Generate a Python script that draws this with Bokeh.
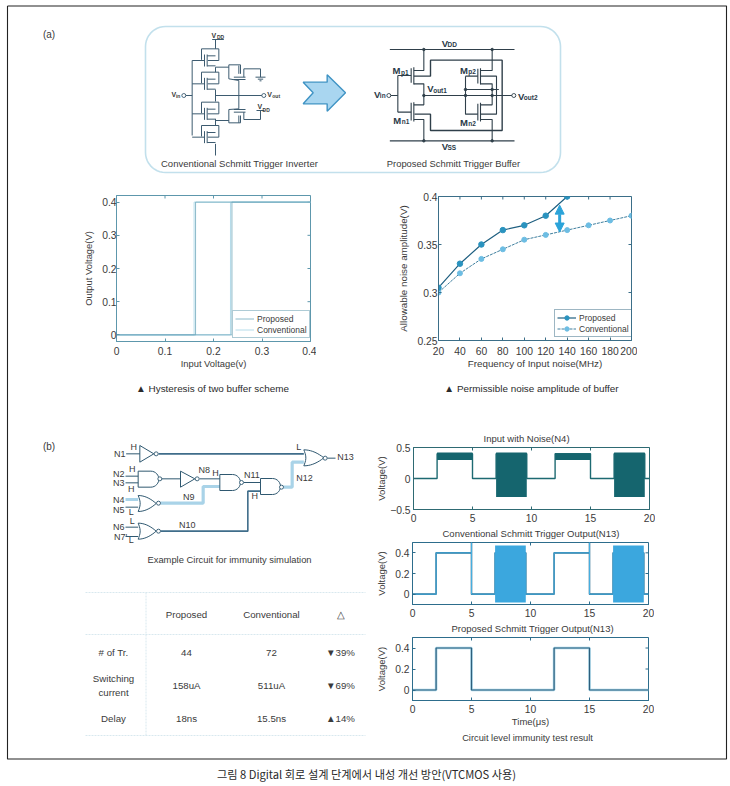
import numpy as np
from bokeh.embed import file_html
from bokeh.resources import INLINE
from bokeh.plotting import figure
from bokeh.models import (ColumnDataSource, Range1d, FixedTicker, Legend, LegendItem,
                          Arrow, NormalHead, Title)

# ---------- chart data ----------
hyst_prop_x = [0, 0.238, 0.238, 0.4, 0.163, 0.163, 0]
hyst_prop_y = [0, 0, 0.4, 0.4, 0.4, 0, 0]
hyst_conv_x = [0, 0.235, 0.235, 0.4, 0.16, 0.16, 0]
hyst_conv_y = [0, 0, 0.4, 0.4, 0.4, 0, 0]

freq_prop = [20, 40, 60, 80, 100, 120, 140]
amp_prop = [0.305, 0.33, 0.35, 0.365, 0.37, 0.38, 0.40]
freq_conv = [20, 40, 60, 80, 100, 120, 140, 160, 180, 200]
amp_conv = [0.30, 0.32, 0.335, 0.345, 0.355, 0.36, 0.365, 0.37, 0.375, 0.38]
gap_freq = [133, 133]
gap_amp = [0.363, 0.391]

n4_t = [0, 2, 2, 5, 5, 7, 7, 9.6, 9.6, 12, 12, 15, 15, 17, 17, 19.6, 19.6, 20]
n4_v = [0, 0, 0.4, 0.4, 0, 0, 0.4, 0.4, 0, 0, 0.4, 0.4, 0, 0, 0.4, 0.4, 0, 0]
n4_band_start = [2, 7, 12, 17]
n4_band_end = [5, 9.6, 15, 19.6]
n4_band_low = [0.3, -0.3, 0.3, -0.3]
n4_band_high = [0.42, 0.42, 0.4, 0.42]

conv_t = [0, 2, 2, 5, 5, 5, 7, 7, 9.6, 9.6, 12, 12, 15, 15, 15, 17, 17, 19.6, 19.6, 20]
conv_v = [0, 0, 0.4, 0.4, 0.5, 0, 0, 0.4, 0.4, 0, 0, 0.4, 0.4, 0.5, 0, 0, 0.4, 0.4, 0, 0]
conv_band_start = [7, 17]
conv_band_end = [9.6, 19.6]
conv_band_low = [-0.08, -0.08]
conv_band_high = [0.47, 0.47]

prop_t = [0, 2, 2, 5, 5, 12, 12, 15, 15, 20]
prop_v = [0, 0, 0.4, 0.4, 0, 0, 0.4, 0.4, 0, 0]

tbl_headers = ["Proposed", "Conventional", "\u25b3"]
tbl_transistors = ["# of Tr.", "44", "72", "\u25bc39%"]
tbl_current = ["158uA", "511uA", "\u25bc69%"]
tbl_delay = ["Delay", "18ns", "15.5ns", "\u25b214%"]

TXT = "#3a3a3a"
FONT = "Liberation Sans"

# ---------- canvas in image pixels ----------
bg = figure(width=730, height=786, x_range=Range1d(0, 730), y_range=Range1d(786, 0),
            output_backend="svg", toolbar_location=None, min_border=0,
            styles={"position": "absolute", "left": "0px", "top": "0px"})
bg.axis.visible = False
bg.grid.visible = False
bg.outline_line_color = None

texts = dict(t=[], x=[], y=[], s=[], st=[], c=[], f=[], al=[])
def T(t, x, y, s=10, st="normal", c=TXT, f=FONT, al="center"):
    texts["t"].append(t); texts["x"].append(x); texts["y"].append(y)
    texts["s"].append(f"{s}px"); texts["st"].append(st); texts["c"].append(c)
    texts["f"].append(f); texts["al"].append(al)

def Z(ox, oy, pts):
    return [ox + p[0] / 3 for p in pts], [oy + p[1] / 3 for p in pts]

def wires(ox, oy, lines, color, width):
    xs, ys = [], []
    for l in lines:
        a, b = Z(ox, oy, l)
        xs.append(a); ys.append(b)
    bg.multi_line(xs, ys, line_color=color, line_width=width)

def dots(ox, oy, pts, size, line="#3a5a70", fill="white"):
    a, b = Z(ox, oy, pts)
    bg.scatter(a, b, size=size, line_color=line, fill_color=fill, line_width=0.9)

# outer frame
bg.line([7, 726, 726, 7, 7], [5.5, 5.5, 758.5, 758.5, 5.5], line_color="#222222", line_width=1.1)
T("(a)", 48.5, 34, 10)
T("(b)", 48.5, 446, 10)
T("\uadf8\ub9bc 8 Digital \ud68c\ub85c \uc124\uacc4 \ub2e8\uacc4\uc5d0\uc11c \ub0b4\uc131 \uac1c\uc120 \ubc29\uc548(VTCMOS \uc0ac\uc6a9)",
  366, 773, 11.2, f="Noto Sans CJK KR", c="#2a2a2a")

# rounded panel
L, R, TP, B, rad = 145, 560, 26, 172, 20
th = np.linspace(0, np.pi / 2, 12)
px = np.concatenate([L + rad - rad * np.cos(th), R - rad + rad * np.sin(th),
                     R - rad + rad * np.cos(th), L + rad - rad * np.sin(th)])
py = np.concatenate([TP + rad - rad * np.sin(th), TP + rad - rad * np.cos(th),
                     B - rad + rad * np.sin(th), B - rad + rad * np.cos(th)])
bg.patch(px, py, fill_color=None, line_color="#c2e0ec", line_width=1.6)

# conventional schematic
ZX, ZY = 130, 15
DK = "#3d5b70"
conv_wires = [
    [(245, 72), (280, 72)], [(255, 72), (255, 100)],
    [(185, 135), (185, 360)], [(160, 240), (185, 240)],
    [(255, 155), (255, 170)], [(255, 222), (255, 258)], [(255, 240), (400, 240)],
    [(255, 310), (255, 330)], [(255, 385), (255, 420)],
    [(255, 155), (295, 155)], [(255, 315), (295, 315)],
    [(325, 150), (325, 175)], [(325, 195), (325, 280)], [(325, 300), (325, 322)],
    [(295, 148), (330, 148), (330, 175)], [(295, 148), (295, 190), (325, 195)],
    [(295, 322), (330, 322), (330, 300)], [(295, 322), (295, 282), (325, 280)],
    [(310, 185), (345, 185)], [(310, 192), (345, 192)], [(310, 282), (345, 282)], [(310, 290), (345, 290)],
    [(340, 185), (340, 160), (390, 160), (390, 185)], [(375, 185), (405, 185)], [(382, 191), (398, 191)], [(387, 196), (393, 196)],
    [(340, 290), (340, 312), (390, 312), (390, 285)], [(378, 285), (402, 285)],
]
for cy in (125, 195, 285, 355):
    conv_wires += [
        [(185, cy + 10), (222, cy + 10)], [(222, cy - 8), (222, cy + 28)], [(230, cy - 8), (230, cy + 28)],
        [(230, cy - 4), (255, cy - 4)], [(230, cy + 26), (255, cy + 26)],
        [(213, cy + 8), (213, cy - 25), (265, cy - 25), (265, cy + 10), (232, cy + 10)],
    ]
wires(ZX, ZY, conv_wires, DK, 1.0)
dots(ZX, ZY, [(160, 240), (400, 240)], 4)
T("V", ZX + 250 / 3, ZY + 60 / 3, 7, "bold"); T("DD", ZX + 270 / 3, ZY + 63 / 3, 5, "bold")
T("V", ZX + 130 / 3, ZY + 237 / 3, 7, "bold"); T("in", ZX + 143 / 3, ZY + 240 / 3, 5, "bold")
T("V", ZX + 417 / 3, ZY + 237 / 3, 7, "bold"); T("out", ZX + 437 / 3, ZY + 241 / 3, 5, "bold")
T("V", ZX + 388 / 3, ZY + 274 / 3, 7, "bold"); T("DD", ZX + 407 / 3, ZY + 282 / 3, 5, "bold")
T("Conventional Schmitt Trigger Inverter", 239, 163, 9.5)

# big arrow
arrow_x, arrow_y = Z(ZX, ZY, [(518, 200), (590, 200), (590, 178), (645, 232), (590, 287), (590, 265), (518, 265), (548, 232)])
bg.patch(arrow_x, arrow_y, fill_color="#a9d6f0", line_color="#3f93c4", line_width=1.4)

# proposed schematic
prop_wires = [
    [(778, 102), (1152, 102)], [(778, 376), (1152, 376)],
    [(880, 102), (880, 165), (850, 165)], [(850, 155), (850, 207)], [(842, 158), (842, 202)],
    [(802, 180), (842, 180)], [(802, 180), (802, 290)], [(778, 240), (802, 240)],
    [(850, 205), (880, 205), (880, 268), (850, 268)], [(850, 260), (850, 318)], [(842, 262), (842, 315)],
    [(802, 290), (842, 290)], [(850, 312), (880, 312), (880, 376)],
    [(880, 240), (1150, 240)],
    [(1085, 102), (1085, 165), (1050, 165)], [(1050, 158), (1050, 207)], [(1042, 160), (1042, 204)],
    [(1005, 182), (1042, 182)], [(1005, 182), (1005, 296), (1042, 296)],
    [(1050, 205), (1085, 205), (1085, 268), (1050, 268)], [(1050, 262), (1050, 318)], [(1042, 265), (1042, 315)],
    [(1050, 312), (1085, 312), (1085, 376)],
    [(1050, 182), (1098, 182), (1098, 296), (1050, 296)], [(1005, 222), (1105, 222)],
]
wires(ZX, ZY, prop_wires, "#2f3f4a", 1.1)
wires(ZX, ZY, [[(850, 182), (900, 182), (900, 134), (1115, 134), (1115, 345), (900, 345), (900, 296), (852, 296)]], "#2f3f4a", 1.4)
dots(ZX, ZY, [(775, 240), (1150, 240)], 4, "#2f3f4a")
dots(ZX, ZY, [(880, 102), (1085, 102), (880, 376), (1085, 376), (880, 240), (1005, 240), (1085, 240),
              (1005, 222), (1085, 222)], 2.5, "#2f3f4a", "#2f3f4a")
for m, s, zx, zy in [("M", "p1", 798, 166), ("M", "n1", 800, 314), ("M", "p2", 1000, 164), ("M", "n2", 1000, 320)]:
    T(m, ZX + zx / 3, ZY + zy / 3, 9.5, "bold", c="#2a3a48")
    T(s, ZX + (zx + 25) / 3, ZY + (zy + 5) / 3, 6.5, "bold", c="#2a3a48")
for v, s, zx, zy in [("V", "DD", 943, 84), ("V", "SS", 943, 392), ("V", "in", 740, 236), ("V", "out1", 900, 220), ("V", "out2", 1172, 243)]:
    T(v, ZX + zx / 3, ZY + zy / 3, 9.5, "bold", c="#2a3a48")
    T(s, ZX + (zx + 8) / 3, ZY + (zy + 4) / 3, 6.5, "bold", c="#2a3a48", al="left")
T("Proposed Schmitt Trigger Buffer", 453, 163, 9.4)

T("\u25b2 Hysteresis of two buffer scheme", 212, 388, 9.9, c="#2a2a2a")
T("\u25b2 Permissible noise amplitude of buffer", 531, 388, 9.9, c="#2a2a2a")

# logic circuit
CX, CY = 90, 430
def nand(x0, x1, y0, y1):
    r = (y1 - y0) / 2
    t = np.linspace(-np.pi / 2, np.pi / 2, 16)
    xs = [x0] + list(x1 - r + r * np.cos(t)) + [x0, x0]
    ys = [y0] + list((y0 + y1) / 2 + r * np.sin(t)) + [y1, y0]
    return list(zip(xs, ys))
def nor(x0, x1, y0, y1):
    t = np.linspace(0, 1, 10)
    h = y1 - y0
    top = [(x0 + (x1 - x0) * a, y0 + h / 2 * a ** 2) for a in t]
    bot = [(x1 - (x1 - x0) * a, y1 - h / 2 * (1 - a) ** 2) for a in t]
    back = [(x0 + 6 * np.sin(np.pi * a), y1 - h * a) for a in t]
    return top + bot + back

dark_w = [
    [(107, 70), (148, 70)], [(148, 45), (148, 95), (190, 70), (148, 45)],
    [(105, 137), (143, 137)], [(105, 157), (143, 157)],
    [(212, 145), (270, 145)], [(270, 122), (270, 170), (313, 145), (270, 122)],
    [(327, 145), (388, 145)], [(460, 156), (510, 156)],
    [(105, 230), (143, 230)], [(105, 290), (143, 290)], [(105, 318), (143, 318)],
    [(710, 83), (735, 83)],
    nand(143, 205, 122, 170), nand(388, 450, 132, 180), nand(510, 570, 144, 192),
    nor(640, 700, 58, 106), nor(143, 197, 195, 243), nor(143, 197, 278, 326),
]
light_w = [
    [(105, 207), (143, 207)],
    [(210, 218), (338, 218), (338, 168), (388, 168)],
    [(578, 170), (605, 170), (605, 95), (640, 95)],
]
wires(CX, CY, light_w, "#a9d3e8", 3.2)
wires(CX, CY, dark_w, "#2f5870", 1.0)
wires(CX, CY, [[(204, 70), (640, 70)], [(210, 302), (472, 302), (472, 182), (510, 182)]], "#3f6d8a", 1.6)
dots(CX, CY, [(197, 70), (208, 145), (320, 145), (453, 156), (573, 170), (704, 83), (204, 218), (204, 302)], 4, "#2f5870")
for lbl, zx, zy in [("N1", 88, 70), ("N2", 85, 130), ("N3", 85, 157), ("N4", 85, 207), ("N5", 85, 237),
                    ("N6", 85, 290), ("N7'", 90, 318), ("N8", 341, 118), ("N9", 295, 198), ("N10", 290, 284),
                    ("N11", 484, 133), ("N12", 642, 142), ("N13", 765, 80),
                    ("H", 130, 48), ("H", 125, 115), ("H", 122, 175), ("L", 122, 245), ("L", 125, 270),
                    ("L", 122, 328), ("H", 375, 127), ("H", 493, 197), ("L", 625, 48)]:
    T(lbl, CX + zx / 3, CY + zy / 3, 9)
T("Example Circuit for immunity simulation", 229, 559, 9.4)

# table
bg.multi_line([[85, 365], [85, 365], [145.5, 145.5], [85, 365]], [[634, 634], [735, 735], [592, 735], [592, 592]],
              line_color="#d8e8ef", line_width=1, line_dash="2 1")
col_x = [186, 271, 340]
for h, cx in zip(tbl_headers, col_x):
    T(h, cx, 614, 9.7)
T(tbl_transistors[0], 113, 652, 9.7)
for v, cx in zip(tbl_transistors[1:], col_x):
    T(v, cx, 652, 9.7)
T("Switching", 113, 678, 9.7); T("current", 113, 692, 9.7)
for v, cx in zip(tbl_current, col_x):
    T(v, cx, 685, 9.7)
T(tbl_delay[0], 113, 718, 9.7)
for v, cx in zip(tbl_delay[1:], col_x):
    T(v, cx, 718, 9.7)
T("Circuit level immunity test result", 527, 737, 9.3)

src = ColumnDataSource(texts)
bg.text("x", "y", text="t", source=src, text_font_size="s", text_font_style="st", text_color="c",
        text_font="f", text_align="al", text_baseline="middle")

# ---------- helper for the axes panels ----------
ML, MT, MR, MB = 56, 24, 6, 34
def panel(fl, ft, fr, fb, xlim, ylim, xticks, yticks, xlab_over, ylab_over, axc, xlabel=None, ylabel=None,
          ystand=5, ylab_stand=7, xstand=4, xlab_stand=0, lab_size="9.5px", title=None, title_off=0, tick=3):
    fw, fh = round(fr - fl), round(fb - ft)
    p = figure(frame_width=fw, frame_height=fh, x_range=Range1d(*xlim), y_range=Range1d(*ylim),
               output_backend="svg", toolbar_location=None, min_border_left=ML, min_border_top=MT,
               min_border_right=MR, min_border_bottom=MB, background_fill_alpha=0, border_fill_alpha=0,
               styles={"position": "absolute", "left": f"{round(fl) - ML}px", "top": f"{round(ft) - MT}px"})
    p.grid.visible = False
    p.outline_line_color = axc
    for ax, ticks, over, lab, stand, lab_st in [(p.xaxis[0], xticks, xlab_over, xlabel, xstand, xlab_stand),
                                                (p.yaxis[0], yticks, ylab_over, ylabel, ystand, ylab_stand)]:
        ax.ticker = FixedTicker(ticks=ticks)
        ax.major_label_overrides = over
        ax.major_tick_in, ax.major_tick_out = tick, 0
        ax.minor_tick_line_color = None
        ax.axis_line_color = axc
        ax.major_tick_line_color = axc
        ax.major_label_text_font = FONT
        ax.major_label_text_font_size = "10.3px"
        ax.major_label_text_color = TXT
        ax.major_label_standoff = stand
        if lab:
            ax.axis_label = lab
            ax.axis_label_text_font = FONT
            ax.axis_label_text_font_size = lab_size
            ax.axis_label_text_font_style = "normal"
            ax.axis_label_text_color = TXT
            ax.axis_label_standoff = lab_st
    # box ticks on the right and top edges, without any labels
    dx = tick / fw * (xlim[1] - xlim[0])
    dy = tick / fh * (ylim[1] - ylim[0])
    p.segment([xlim[1]] * len(yticks), yticks, [xlim[1] - dx] * len(yticks), yticks, line_color=axc, line_width=1)
    p.segment(xticks, [ylim[1]] * len(xticks), xticks, [ylim[1] - dy] * len(xticks), line_color=axc, line_width=1)
    if title:
        p.add_layout(Title(text=title, text_font=FONT, text_font_size="9.5px", text_font_style="normal",
                           text_color=TXT, align="left", offset=title_off, standoff=7), "above")
    return p

def legend(p, items, loc, border):
    lg = Legend(items=items, location=loc, padding=2, margin=0, spacing=0, glyph_width=19, glyph_height=11,
                label_height=11, label_standoff=3, label_text_font=FONT, label_text_font_size="8.5px",
                label_text_color=TXT, border_line_color=border, background_fill_alpha=1)
    p.add_layout(lg)

# hysteresis
TEAL = "#5d97ac"
p1 = panel(116, 195, 310, 341, (0, 0.4), (-0.02, 0.42), [0, 0.1, 0.2, 0.3, 0.4], [0, 0.1, 0.2, 0.3, 0.4],
           {0: "0"}, {0: "0"}, TEAL, "Input Voltage(v)", "Output Voltage(V)", ystand=0, ylab_stand=5, xstand=5, lab_size="9.4px")
c1 = p1.line(hyst_conv_x, hyst_conv_y, line_color="#b5dcea", line_width=1)
r1 = p1.line(hyst_prop_x, hyst_prop_y, line_color="#6fa8bc", line_width=0.8)
legend(p1, [LegendItem(label="Proposed", renderers=[r1]), LegendItem(label="Conventional", renderers=[c1])], (116, 3), TEAL)

# noise amplitude
NAVY = "#3b6e88"
p2 = panel(438, 196, 631, 340, (20, 200), (0.25, 0.4), freq_conv, [0.25, 0.3, 0.35, 0.4],
           {}, {0.25: "0.25", 0.3: "0.3", 0.35: "0.35", 0.4: "0.4"}, NAVY,
           "Frequency of Input noise(MHz)", "Allowable noise amplitude(V)", ystand=1, ylab_stand=5, xstand=6, lab_size="9.8px")
l_conv = p2.line(freq_conv, amp_conv, line_color="#3f7f9e", line_width=1, line_dash="3 1")
m_conv = p2.scatter(freq_conv, amp_conv, size=5, fill_color="#6dbde3", line_color="#6dbde3")
l_prop = p2.line(freq_prop, amp_prop, line_color="#1f5f80", line_width=1.2)
m_prop = p2.scatter(freq_prop, amp_prop, size=5.5, fill_color="#2a93bf", line_color="#2a93bf")
p2.add_layout(Arrow(x_start=gap_freq[0], y_start=gap_amp[0], x_end=gap_freq[1], y_end=gap_amp[1],
                    line_color="#2ba3d9", line_width=3,
                    start=NormalHead(size=9, fill_color="#2ba3d9", line_color="#2ba3d9"),
                    end=NormalHead(size=9, fill_color="#2ba3d9", line_color="#2ba3d9")))
legend(p2, [LegendItem(label="Proposed", renderers=[l_prop, m_prop]), LegendItem(label="Conventional", renderers=[l_conv, m_conv])],
       (116, 3), NAVY)

# time traces
TICKS_T = [0, 5, 10, 15, 20]
p3 = panel(413, 447, 649, 509, (0, 20), (-0.5, 0.5), TICKS_T, [-0.5, 0, 0.5], {}, {-0.5: "\u22120.5", 0: "0", 0.5: "0.5"},
           "#2e6a73", None, "Voltage(V)", ystand=3, ylab_stand=0, title="Input with Noise(N4)", title_off=70)
p3.line(n4_t, n4_v, line_color="#1d6a72", line_width=1.4)
p3.quad(left=n4_band_start, right=n4_band_end, bottom=n4_band_low, top=n4_band_high, fill_color="#15656e", line_color=None)

p4 = panel(412, 542, 648, 604, (0, 20), (-0.1, 0.5), TICKS_T, [0, 0.2, 0.4], {}, {0: "0"},
           "#2d6d8c", None, "Voltage(V)", ystand=3, ylab_stand=5, title="Conventional Schmitt Trigger Output(N13)", title_off=30)
p4.line(conv_t, conv_v, line_color="#2f6f8f", line_width=1.6)
p4.line(conv_t, conv_v, line_color="#45aee0", line_width=1)
p4.quad(left=conv_band_start, right=conv_band_end, bottom=conv_band_low, top=conv_band_high, fill_color="#3ba7de", line_color=None)

p5 = panel(412, 637, 648, 700, (0, 20), (-0.1, 0.5), TICKS_T, [0, 0.2, 0.4], {}, {0: "0"},
           "#2d6d8c", "Time(\u03bcs)", "Voltage(V)", ystand=3, ylab_stand=5, title="Proposed Schmitt Trigger Output(N13)", title_off=39)
p5.line(prop_t, prop_v, line_color="#a5d4e8", line_width=2.6)
p5.line(prop_t, prop_v, line_color="#2d5f7c", line_width=1.2)

open("out.html", "w").write(file_html([bg, p1, p2, p3, p4, p5], INLINE))
